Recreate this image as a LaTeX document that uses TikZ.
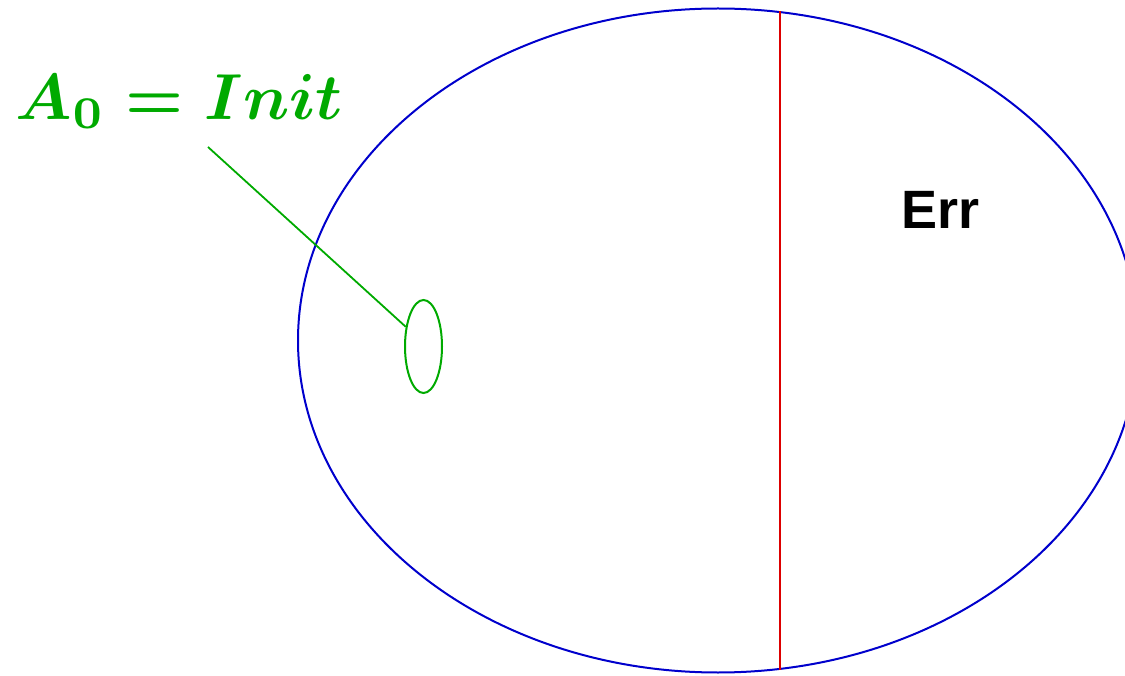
\documentclass[tikz,border=0pt]{standalone}
\usepackage{fontspec}
\newfontfamily\errfont{Liberation Sans}
\usetikzlibrary{shapes.geometric}
\definecolor{setblue}{RGB}{0,0,204}
\definecolor{initgreen}{RGB}{0,170,0}
\definecolor{cutred}{RGB}{221,0,0}
\begin{document}
\boldmath
\begin{tikzpicture}[x=1pt,y=-1pt,
  region/.style={ellipse, draw=setblue, line width=2pt, inner sep=0pt},
  initset/.style={ellipse, draw=initgreen, line width=2pt, inner sep=0pt},
  pointer/.style={draw=initgreen, line width=1.8pt},
  cutline/.style={draw=cutred, line width=2pt},
  mathlbl/.style={inner sep=0pt, outer sep=0pt, text=initgreen},
  errlbl/.style={inner sep=0pt, outer sep=0pt, font=\errfont\bfseries\fontsize{54}{60}\selectfont}]
\useasboundingbox (0,0) rectangle (1125,676);
\node[region, minimum width=840pt, minimum height=664pt] (space) at (718,340.5) {};
\coordinate (ctop) at (780,11);
\coordinate (cbot) at (780,670);
\draw[cutline] (ctop) -- (cbot);
\node[initset, minimum width=37pt, minimum height=93pt] (init) at (423.5,346.5) {};
\node[mathlbl, anchor=south west] (lab) at (16,129) {\scalebox{6.5}{$A_0 = Init$}};
\coordinate (tail) at (208,147);
\draw[pointer] (tail) -- (init.132);
\node[errlbl, anchor=south west] (err) at (901,229) {Err};
\end{tikzpicture}
\end{document}
